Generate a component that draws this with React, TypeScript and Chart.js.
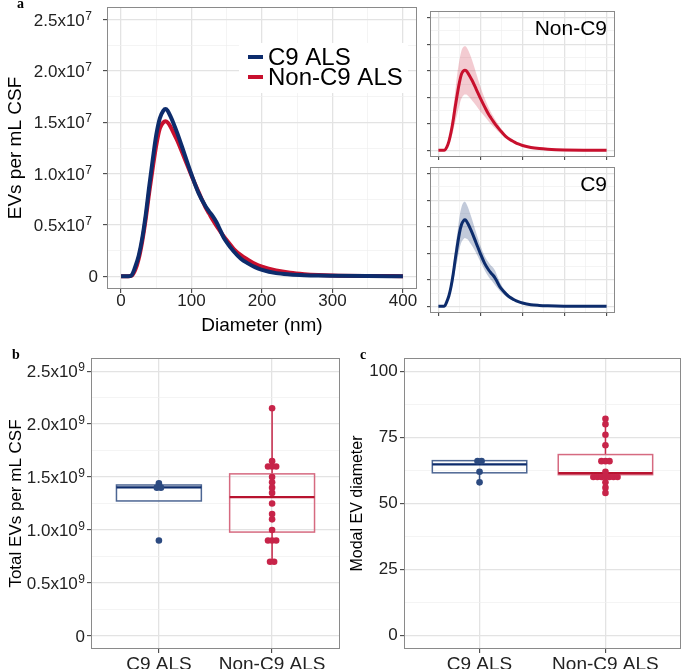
import React, { useEffect, useRef } from 'react';
import { Chart, registerables } from 'chart.js';
Chart.register(...registerables);

const FONT = "'Liberation Sans', Arial, Helvetica, sans-serif";
Chart.defaults.font.family = FONT;

// ---------------- data ----------------
// Panel a: size distributions (EVs per mL CSF, in units of 10^7)
const DIAMETER = [0, 5, 10, 15, 20, 25, 30, 35, 40, 45, 50, 55, 60, 63, 66, 70, 75, 80, 90, 100, 110, 120, 125, 130, 135, 140, 145, 150, 160, 170, 180, 190, 200, 220, 240, 260, 280, 300, 350, 400];
const C9_MEAN = [0, 0, 0, 0.01, 0.09, 0.2, 0.37, 0.6, 0.88, 1.14, 1.38, 1.54, 1.615, 1.63, 1.615, 1.56, 1.48, 1.39, 1.19, 0.99, 0.81, 0.68, 0.63, 0.585, 0.53, 0.46, 0.385, 0.33, 0.24, 0.17, 0.125, 0.088, 0.062, 0.03, 0.017, 0.01, 0.006, 0.004, 0.001, 0];
const NONC9_MEAN = [0, 0, 0, 0.005, 0.06, 0.17, 0.34, 0.56, 0.82, 1.06, 1.28, 1.44, 1.5, 1.51, 1.5, 1.46, 1.39, 1.32, 1.15, 0.98, 0.82, 0.67, 0.61, 0.55, 0.495, 0.445, 0.395, 0.35, 0.265, 0.205, 0.16, 0.12, 0.092, 0.055, 0.033, 0.02, 0.012, 0.007, 0.002, 0];
const C9_UPPER = [0, 0, 0, 0.015, 0.11, 0.25, 0.47, 0.75, 1.1, 1.38, 1.68, 1.87, 1.96, 1.97, 1.94, 1.87, 1.76, 1.64, 1.38, 1.14, 0.95, 0.82, 0.77, 0.73, 0.67, 0.57, 0.48, 0.4, 0.29, 0.2, 0.145, 0.1, 0.07, 0.035, 0.02, 0.012, 0.007, 0.005, 0.001, 0];
const C9_LOWER = [0, 0, 0, 0.005, 0.07, 0.15, 0.29, 0.45, 0.68, 0.86, 1.08, 1.21, 1.27, 1.29, 1.28, 1.26, 1.2, 1.14, 1.0, 0.84, 0.68, 0.55, 0.5, 0.45, 0.4, 0.35, 0.3, 0.26, 0.19, 0.14, 0.105, 0.078, 0.055, 0.026, 0.014, 0.008, 0.005, 0.003, 0.001, 0];
const NONC9_UPPER = [0, 0, 0, 0.01, 0.08, 0.24, 0.47, 0.77, 1.12, 1.45, 1.7, 1.88, 1.95, 1.96, 1.95, 1.9, 1.81, 1.7, 1.45, 1.2, 0.98, 0.8, 0.72, 0.65, 0.58, 0.52, 0.46, 0.4, 0.3, 0.23, 0.18, 0.135, 0.1, 0.06, 0.036, 0.022, 0.013, 0.008, 0.002, 0];
const NONC9_LOWER = [0, 0, 0, 0, 0.04, 0.11, 0.22, 0.36, 0.53, 0.69, 0.85, 0.98, 1.04, 1.05, 1.05, 1.03, 0.99, 0.94, 0.84, 0.73, 0.64, 0.54, 0.49, 0.45, 0.41, 0.37, 0.33, 0.3, 0.23, 0.18, 0.14, 0.105, 0.083, 0.05, 0.03, 0.018, 0.011, 0.006, 0.002, 0];

const DIAM_MAJOR = [0, 100, 200, 300, 400];
const DIAM_MINOR = [50, 150, 250, 350];
const EV_MAJOR = [0, 0.5, 1.0, 1.5, 2.0, 2.5];
const EV_MINOR = [0.25, 0.75, 1.25, 1.75, 2.25];

// Panels b & c
const GROUPS = ['C9 ALS', 'Non-C9 ALS'];
// Total EVs per mL CSF (units of 10^9)
const TOTAL_C9 = [1.44, 1.4, 1.4, 0.9];
const TOTAL_NONC9 = [2.15, 1.65, 1.6, 1.6, 1.6, 1.5, 1.45, 1.4, 1.35, 1.25, 1.15, 1.1, 1.0, 0.9, 0.9, 0.9, 0.7, 0.7];
const TOTAL_Q1 = [1.274, 0.98];
const TOTAL_MED = [1.403, 1.31];
const TOTAL_Q3 = [1.425, 1.53];
const TOTAL_WLO = [1.274, 0.7];
const TOTAL_WHI = [1.44, 2.15];
const TOTAL_MAJOR = [0, 0.5, 1.0, 1.5, 2.0, 2.5];
const TOTAL_MINOR = [0.25, 0.75, 1.25, 1.75, 2.25];
// Modal EV diameter
const MODAL_C9 = [66, 66, 62, 58];
const MODAL_NONC9 = [82, 80, 76, 72, 66, 66, 66, 62, 60, 60, 60, 60, 60, 60, 60, 58, 56, 54];
const MODAL_Q1 = [61.6, 60.9];
const MODAL_MED = [64.8, 61.5];
const MODAL_Q3 = [66.2, 68.5];
const MODAL_WLO = [58, 54];
const MODAL_WHI = [66.2, 82];
const MODAL_MAJOR = [0, 25, 50, 75, 100];
const MODAL_MINOR = [12.5, 37.5, 62.5, 87.5];

// ---------------- styling ----------------
const BLUE = '#0d2c6c';
const RED = '#c8102e';
const BLUE_FILL = 'rgba(13,44,108,0.25)';
const RED_FILL = 'rgba(200,16,46,0.22)';
const TICK_COLOR = '#222';
const BORDER = '#8a8a8a';

const near = (a: number, b: number) => Math.abs(a - b) < 1e-9;

function gridOpts(majors: number[]) {
  const isMajor = (c: any) => majors.some((m) => near(m, c.tick ? c.tick.value : NaN));
  return {
    color: (c: any) => (isMajor(c) ? '#e3e3e3' : '#efefef'),
    lineWidth: (c: any) => (isMajor(c) ? 1.3 : 0.7),
    tickColor: (c: any) => (isMajor(c) ? '#333' : 'rgba(0,0,0,0)'),
    tickWidth: 1,
    tickLength: 4,
    drawTicks: true,
  };
}

function setTicks(values: number[]) {
  return (scale: any) => {
    scale.ticks = values.slice().sort((a, b) => a - b).map((v) => ({ value: v }));
  };
}

function fixY(width: number) {
  return (s: any) => {
    s.width = width;
    s.paddingTop = 0;
    s.paddingBottom = 0;
  };
}
function fixX(height: number) {
  return (s: any) => {
    s.height = height;
    s.paddingLeft = 0;
    s.paddingRight = 0;
  };
}

const panelBorder = {
  id: 'panelBorder',
  afterDatasetsDraw(chart: any) {
    const { ctx, chartArea: a } = chart;
    ctx.save();
    ctx.strokeStyle = BORDER;
    ctx.lineWidth = 1;
    ctx.strokeRect(Math.round(a.left) + 0.5, Math.round(a.top) + 0.5, Math.round(a.right - a.left) - 1, Math.round(a.bottom - a.top) - 1);
    ctx.restore();
  },
};

// y tick labels of the form "2.5x10^7" with a real raised exponent
const expTicks = {
  id: 'expTicks',
  afterDraw(chart: any, _args: any, opts: any) {
    const { ctx } = chart;
    const y = chart.scales.y;
    const xr = y.right - 4 - opts.pad;
    ctx.save();
    ctx.fillStyle = TICK_COLOR;
    ctx.textBaseline = 'alphabetic';
    y.ticks.forEach((t: any) => {
      const v = t.value;
      if (!opts.majors.some((m: number) => near(m, v))) return;
      const py = y.getPixelForValue(v);
      const base = py + 6.1;
      if (near(v, 0)) {
        ctx.font = `17px ${FONT}`;
        ctx.textAlign = 'right';
        ctx.fillText('0', xr, base);
        return;
      }
      const mant = `${v.toFixed(1)}x10`;
      ctx.font = `12px ${FONT}`;
      const ew = ctx.measureText(opts.exp).width;
      const eEnd = xr - opts.gap;
      ctx.textAlign = 'left';
      ctx.fillText(opts.exp, eEnd - ew, base - 6);
      ctx.font = `17px ${FONT}`;
      ctx.textAlign = 'right';
      ctx.fillText(mant, eEnd - ew - 0.5, base);
    });
    ctx.restore();
  },
};

const insideLegend = {
  id: 'insideLegend',
  afterDatasetsDraw(chart: any) {
    const { ctx, chartArea: a } = chart;
    const x0 = a.left + 132;
    const y0 = a.top + 36;
    ctx.save();
    ctx.fillStyle = '#fff';
    ctx.fillRect(x0, y0, 169, 50);
    chart.data.datasets.forEach((ds: any, i: number) => {
      const yy = y0 + 14 + i * 20;
      ctx.strokeStyle = ds.borderColor;
      ctx.lineWidth = 4;
      ctx.beginPath();
      ctx.moveTo(x0 + 9, yy);
      ctx.lineTo(x0 + 24, yy);
      ctx.stroke();
      ctx.fillStyle = '#000';
      ctx.font = `24px ${FONT}`;
      ctx.textBaseline = 'middle';
      ctx.textAlign = 'left';
      ctx.fillText(ds.label, x0 + 29, yy + 1);
    });
    ctx.restore();
  },
};

const cornerTitle = {
  id: 'cornerTitle',
  afterDatasetsDraw(chart: any, _args: any, opts: any) {
    const { ctx, chartArea: a } = chart;
    ctx.save();
    ctx.fillStyle = '#000';
    ctx.font = `21px ${FONT}`;
    ctx.textAlign = 'right';
    ctx.textBaseline = 'alphabetic';
    ctx.fillText(opts.text, a.right - 8, a.top + 24);
    ctx.restore();
  },
};

const boxPlugin = {
  id: 'boxes',
  beforeDatasetsDraw(chart: any, _args: any, opts: any) {
    const { ctx, scales } = chart;
    const x = scales.x;
    const y = scales.y;
    opts.boxes.forEach((b: any) => {
      const xc = x.getPixelForValue(b.pos);
      const hw = x.getPixelForValue(b.pos + 0.375) - xc;
      ctx.save();
      ctx.strokeStyle = b.whisker;
      ctx.lineWidth = 1.5;
      ctx.beginPath();
      ctx.moveTo(xc, y.getPixelForValue(b.q3));
      ctx.lineTo(xc, y.getPixelForValue(b.hi));
      ctx.moveTo(xc, y.getPixelForValue(b.q1));
      ctx.lineTo(xc, y.getPixelForValue(b.lo));
      ctx.stroke();
      ctx.strokeStyle = b.edge;
      ctx.lineWidth = 1.5;
      const yt = y.getPixelForValue(b.q3);
      const yb = y.getPixelForValue(b.q1);
      ctx.strokeRect(xc - hw, yt, 2 * hw, yb - yt);
      ctx.strokeStyle = b.median;
      ctx.lineWidth = 2.2;
      ctx.beginPath();
      const ym = y.getPixelForValue(b.med);
      ctx.moveTo(xc - hw, ym);
      ctx.lineTo(xc + hw, ym);
      ctx.stroke();
      ctx.restore();
    });
  },
};

function series(ys: number[]) {
  return DIAMETER.map((d, i) => ({ x: d, y: ys[i] }));
}

function mainConfig(): any {
  return {
    type: 'line',
    data: {
      datasets: [
        { label: 'C9 ALS', data: series(C9_MEAN), borderColor: BLUE, borderWidth: 4, pointRadius: 0, cubicInterpolationMode: 'monotone', fill: false },
        { label: 'Non-C9 ALS', data: series(NONC9_MEAN), borderColor: RED, borderWidth: 4, pointRadius: 0, cubicInterpolationMode: 'monotone', fill: false },
      ],
    },
    options: {
      responsive: false,
      animation: false,
      events: [],
      layout: { padding: { top: 7, right: 3, left: 0, bottom: 0 } },
      plugins: { legend: { display: false }, tooltip: { enabled: false }, expTicks: { majors: EV_MAJOR, exp: '7', pad: 5, gap: 6 } },
      scales: {
        x: {
          type: 'linear', min: -20, max: 420,
          afterBuildTicks: setTicks([...DIAM_MAJOR, ...DIAM_MINOR]),
          afterFit: fixX(51),
          ticks: { autoSkip: false, maxRotation: 0, padding: -2, color: TICK_COLOR, font: { size: 17 }, callback: (v: number) => (DIAM_MAJOR.includes(v) ? String(v) : '') },
          grid: gridOpts(DIAM_MAJOR),
          border: { display: false },
          title: { display: true, text: 'Diameter (nm)', color: '#000', font: { size: 19 }, padding: { top: 0, bottom: 3 } },
        },
        y: {
          type: 'linear', min: -0.125, max: 2.625,
          afterBuildTicks: setTicks([...EV_MAJOR, ...EV_MINOR]),
          afterFit: fixY(107),
          ticks: { autoSkip: false, padding: 5, callback: () => '' },
          grid: gridOpts(EV_MAJOR),
          border: { display: false },
          title: { display: true, text: 'EVs per mL CSF', color: '#000', font: { size: 19 }, padding: { top: 4.6, bottom: 0 } },
        },
      },
    },
    plugins: [panelBorder, insideLegend, expTicks],
  };
}

function smallConfig(mean: number[], upper: number[], lower: number[], color: string, fillColor: string, title: string, padTop: number, xHeight: number): any {
  return {
    type: 'line',
    data: {
      datasets: [
        { label: 'upper', data: series(upper), borderWidth: 0, borderColor: 'rgba(0,0,0,0)', backgroundColor: fillColor, pointRadius: 0, cubicInterpolationMode: 'monotone', fill: '+1' },
        { label: 'lower', data: series(lower), borderWidth: 0, borderColor: 'rgba(0,0,0,0)', pointRadius: 0, cubicInterpolationMode: 'monotone', fill: false },
        { label: title, data: series(mean), borderColor: color, borderWidth: 3, pointRadius: 0, cubicInterpolationMode: 'monotone', fill: false },
      ],
    },
    options: {
      responsive: false,
      animation: false,
      events: [],
      layout: { padding: { top: padTop, right: 70, left: 0, bottom: 0 } },
      plugins: { legend: { display: false }, tooltip: { enabled: false }, cornerTitle: { text: title } },
      scales: {
        x: {
          type: 'linear', min: -20, max: 420,
          afterBuildTicks: setTicks([...DIAM_MAJOR, ...DIAM_MINOR]),
          afterFit: fixX(xHeight),
          ticks: { autoSkip: false, maxRotation: 0, padding: 0, callback: () => '' },
          grid: { ...gridOpts(DIAM_MAJOR), tickLength: 3 },
          border: { display: false },
        },
        y: {
          type: 'linear', min: -0.125, max: 2.625,
          afterBuildTicks: setTicks([...EV_MAJOR, ...EV_MINOR]),
          afterFit: fixY(10),
          ticks: { autoSkip: false, padding: 0, callback: () => '' },
          grid: { ...gridOpts(EV_MAJOR), tickLength: 3 },
          border: { display: false },
        },
      },
    },
    plugins: [panelBorder, cornerTitle],
  };
}

function dotPoints(values: number[], pos: number, step: number) {
  const counts = new Map<number, number>();
  values.forEach((v) => counts.set(v, (counts.get(v) || 0) + 1));
  const pts: { x: number; y: number }[] = [];
  counts.forEach((n, v) => {
    for (let i = 0; i < n; i++) pts.push({ x: pos + (i - (n - 1) / 2) * step, y: v });
  });
  return pts;
}

function boxConfig(opts: {
  c9: number[]; non: number[]; q1: number[]; med: number[]; q3: number[]; lo: number[]; hi: number[];
  min: number; max: number; majors: number[]; minors: number[]; exp: string | null;
  title: string; titleSize: number; titlePad: number; yWidth: number; right: number; step: number; tickPad: number;
}): any {
  const boxes = [0, 1].map((i) => ({
    pos: i + 1, q1: opts.q1[i], med: opts.med[i], q3: opts.q3[i], lo: opts.lo[i], hi: opts.hi[i],
    edge: i === 0 ? '#4d6693' : '#d66a80',
    median: i === 0 ? BLUE : '#b8132f',
    whisker: i === 0 ? '#3b5585' : '#c62a4b',
  }));
  const useExp = opts.exp !== null;
  return {
    type: 'scatter',
    data: {
      datasets: [
        { label: GROUPS[0], data: dotPoints(opts.c9, 1, opts.step), backgroundColor: '#2c4a80', borderWidth: 0, pointRadius: 3.3 },
        { label: GROUPS[1], data: dotPoints(opts.non, 2, opts.step), backgroundColor: '#c72449', borderWidth: 0, pointRadius: 3.3 },
      ],
    },
    options: {
      responsive: false,
      animation: false,
      events: [],
      layout: { padding: { top: 18, right: opts.right, left: 0, bottom: 0 } },
      plugins: {
        legend: { display: false }, tooltip: { enabled: false }, boxes: { boxes },
        expTicks: { majors: opts.majors, exp: opts.exp || '', pad: opts.tickPad, gap: 0 },
      },
      scales: {
        x: {
          type: 'linear', min: 0.4, max: 2.6,
          afterBuildTicks: setTicks([1, 2]),
          afterFit: fixX(20),
          ticks: { autoSkip: false, maxRotation: 0, padding: 0, color: TICK_COLOR, font: { size: 19 }, callback: (v: number) => GROUPS[Math.round(v) - 1] || '' },
          grid: gridOpts([1, 2]),
          border: { display: false },
        },
        y: {
          type: 'linear', min: opts.min, max: opts.max,
          afterBuildTicks: setTicks([...opts.majors, ...opts.minors]),
          afterFit: fixY(opts.yWidth),
          ticks: {
            autoSkip: false, padding: opts.tickPad, color: TICK_COLOR, font: { size: 17 },
            callback: (v: number) => (!useExp && opts.majors.some((m) => near(m, v)) ? String(v) : ''),
          },
          grid: gridOpts(opts.majors),
          border: { display: false },
          title: { display: true, text: opts.title, color: '#000', font: { size: opts.titleSize }, padding: { top: opts.titlePad, bottom: 0 } },
        },
      },
    },
    plugins: useExp ? [boxPlugin, panelBorder, expTicks] : [boxPlugin, panelBorder],
  };
}

function ChartCanvas({ left, top, width, height, make }: { left: number; top: number; width: number; height: number; make: () => any }) {
  const ref = useRef<HTMLCanvasElement>(null);
  useEffect(() => {
    const chart = new Chart(ref.current as HTMLCanvasElement, make());
    return () => chart.destroy();
  }, []);
  return <canvas ref={ref} width={width} height={height} style={{ position: 'absolute', left, top, width, height }} />;
}

const panelLetter: React.CSSProperties = {
  position: 'absolute',
  fontFamily: "'Liberation Serif', 'Times New Roman', serif",
  fontWeight: 'bold',
  fontSize: 14,
  lineHeight: '14px',
  color: '#000',
};

export default function App() {
  return (
    <div style={{ position: 'absolute', left: 0, top: 0, width: 685, height: 669, background: '#fff', overflow: 'hidden' }}>
      <ChartCanvas left={0} top={0} width={420} height={340} make={mainConfig} />
      <ChartCanvas left={420} top={0} width={265} height={162} make={() => smallConfig(NONC9_MEAN, NONC9_UPPER, NONC9_LOWER, RED, RED_FILL, 'Non-C9', 11, 5)} />
      <ChartCanvas left={420} top={160} width={265} height={160} make={() => smallConfig(C9_MEAN, C9_UPPER, C9_LOWER, BLUE, BLUE_FILL, 'C9', 7, 7)} />
      <ChartCanvas
        left={0} top={340} width={345} height={329}
        make={() => boxConfig({
          c9: TOTAL_C9, non: TOTAL_NONC9, q1: TOTAL_Q1, med: TOTAL_MED, q3: TOTAL_Q3, lo: TOTAL_WLO, hi: TOTAL_WHI,
          min: -0.125, max: 2.625, majors: TOTAL_MAJOR, minors: TOTAL_MINOR, exp: '9',
          title: 'Total EVs per mL CSF', titleSize: 17, titlePad: 5.8, yWidth: 91, right: 5, step: 0.036, tickPad: 2,
        })}
      />
      <ChartCanvas
        left={345} top={340} width={340} height={329}
        make={() => boxConfig({
          c9: MODAL_C9, non: MODAL_NONC9, q1: MODAL_Q1, med: MODAL_MED, q3: MODAL_Q3, lo: MODAL_WLO, hi: MODAL_WHI,
          min: -5, max: 105, majors: MODAL_MAJOR, minors: MODAL_MINOR, exp: null,
          title: 'Modal EV diameter', titleSize: 16, titlePad: 3.4, yWidth: 59, right: 2, step: 0.032, tickPad: 2.3,
        })}
      />
      <div style={{ ...panelLetter, left: 17, top: -3 }}>a</div>
      <div style={{ ...panelLetter, left: 12, top: 348 }}>b</div>
      <div style={{ ...panelLetter, left: 360, top: 348 }}>c</div>
    </div>
  );
}
